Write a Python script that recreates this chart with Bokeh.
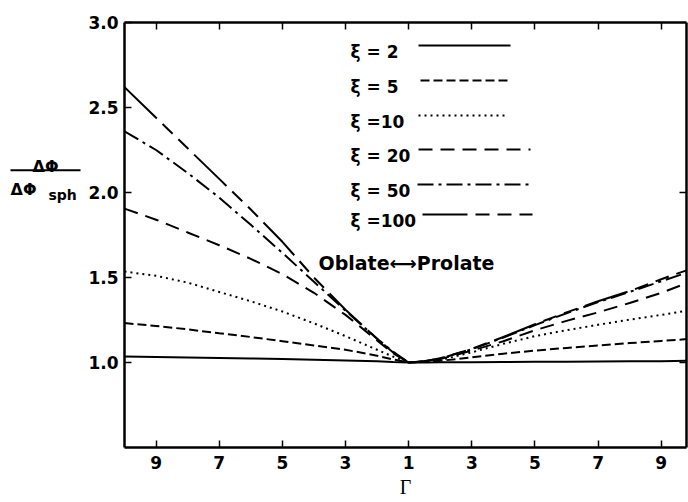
from bokeh.plotting import figure
from bokeh.layouts import row
from bokeh.models import Range1d, LinearAxis, FixedTicker, Label
from bokeh.core.properties import value
from bokeh.embed import file_html
from bokeh.resources import INLINE

# ---------------- data ----------------
xi_labels = ["ξ = 2", "ξ = 5", "ξ =10", "ξ = 20", "ξ = 50", "ξ =100"]

gamma_oblate = [10, 9, 8, 7, 6, 5, 4, 3, 2, 1.5, 1]
gamma_prolate = [1, 1.5, 2, 3, 4, 5, 6, 7, 8, 9, 10]

oblate_xi2 = [1.035, 1.033, 1.030, 1.027, 1.024, 1.020, 1.016, 1.012, 1.007, 1.003, 1.0]
oblate_xi5 = [1.232, 1.215, 1.195, 1.172, 1.150, 1.125, 1.100, 1.075, 1.040, 1.018, 1.0]
oblate_xi10 = [1.535, 1.510, 1.470, 1.415, 1.360, 1.300, 1.230, 1.155, 1.075, 1.035, 1.0]
oblate_xi20 = [1.905, 1.840, 1.765, 1.690, 1.610, 1.520, 1.410, 1.280, 1.130, 1.055, 1.0]
oblate_xi50 = [2.360, 2.250, 2.115, 1.970, 1.810, 1.645, 1.475, 1.305, 1.140, 1.065, 1.0]
oblate_xi100 = [2.620, 2.440, 2.260, 2.080, 1.900, 1.710, 1.500, 1.310, 1.140, 1.060, 1.0]

prolate_xi2 = [1.0, 1.0, 1.001, 1.002, 1.003, 1.004, 1.005, 1.006, 1.007, 1.008, 1.010]
prolate_xi5 = [1.0, 1.003, 1.010, 1.030, 1.052, 1.070, 1.086, 1.100, 1.114, 1.127, 1.140]
prolate_xi10 = [1.0, 1.005, 1.015, 1.060, 1.110, 1.155, 1.190, 1.222, 1.252, 1.280, 1.310]
prolate_xi20 = [1.0, 1.007, 1.020, 1.070, 1.125, 1.190, 1.245, 1.295, 1.350, 1.410, 1.480]
prolate_xi50 = [1.0, 1.008, 1.024, 1.078, 1.147, 1.220, 1.290, 1.355, 1.415, 1.478, 1.540]
prolate_xi100 = [1.0, 1.008, 1.025, 1.080, 1.150, 1.225, 1.295, 1.360, 1.420, 1.490, 1.555]

oblate_series = [oblate_xi2, oblate_xi5, oblate_xi10, oblate_xi20, oblate_xi50, oblate_xi100]
prolate_series = [prolate_xi2, prolate_xi5, prolate_xi10, prolate_xi20, prolate_xi50, prolate_xi100]

x_tick_pos = [-8, -6, -4, -2, 0, 2, 4, 6, 8]
x_tick_labels = ["9", "7", "5", "3", "1", "3", "5", "7", "9"]
y_ticks = [1.0, 1.5, 2.0, 2.5, 3.0]
right_ticks = [1.0, 2.0]

# ---------------- styles / layout ----------------
dashes = ["solid", "9 4", "2 4", "14 8", "16 5 3 5", "45 8 14 8 14 8"]
FONT = "DejaVu Sans"

H = 502
LEFT_W = 85          # strip holding the y-axis title
MAIN_W = 688 - LEFT_W
FRAME_L, FRAME_R, FRAME_T, FRAME_B = 124, 686, 22, 447
X0, X1 = -9.0, 8.8
Y0, Y1 = 0.5, 3.0


def X(px):
    return X0 + (px - FRAME_L) * (X1 - X0) / (FRAME_R - FRAME_L)


def Y(py):
    return Y1 - (py - FRAME_T) * (Y1 - Y0) / (FRAME_B - FRAME_T)


# ---------- y-axis title strip ----------
t = figure(width=LEFT_W, height=H, output_backend="svg", toolbar_location=None,
           x_range=Range1d(0, LEFT_W), y_range=Range1d(H, 0),
           x_axis_type=None, y_axis_type=None,
           min_border_left=0, min_border_right=0, min_border_top=0, min_border_bottom=0)
t.outline_line_color = None
t.grid.visible = False
t.text(x=[45], y=[170], text=["ΔΦ"], text_font=value(FONT), text_font_style="bold",
       text_font_size="16px", text_align="center", text_baseline="alphabetic",
       text_color="black")
t.segment(x0=[10], y0=[174.5], x1=[80], y1=[174.5], line_width=2, line_color="black")
t.text(x=[10], y=[197], text=["ΔΦ"], text_font=value(FONT), text_font_style="bold",
       text_font_size="16px", text_align="left", text_baseline="alphabetic",
       text_color="black")
t.text(x=[48], y=[204], text=["sph"], text_font=value(FONT), text_font_style="bold",
       text_font_size="14px", text_align="left", text_baseline="alphabetic",
       text_color="black")

# ---------- main plot ----------
p = figure(width=MAIN_W, height=H, output_backend="svg", toolbar_location=None,
           x_range=Range1d(X0, X1), y_range=Range1d(Y0, Y1),
           min_border_left=FRAME_L - LEFT_W, min_border_right=688 - FRAME_R,
           min_border_top=FRAME_T, min_border_bottom=H - FRAME_B)
p.outline_line_color = None
p.grid.visible = False
p.background_fill_color = "white"
p.border_fill_color = "white"

xa = p.below[0]
xa.ticker = FixedTicker(ticks=x_tick_pos)
xa.major_label_overrides = {tk: lb for tk, lb in zip(x_tick_pos, x_tick_labels)}
ya = p.left[0]
ya.ticker = FixedTicker(ticks=y_ticks)
ya.major_label_overrides = {tk: f"{tk:.1f}" for tk in y_ticks}
for ax in (xa, ya):
    ax.axis_line_width = 2.5
    ax.major_tick_in = 7
    ax.major_tick_out = 0
    ax.major_tick_line_width = 1.5
    ax.minor_tick_in = 0
    ax.minor_tick_out = 0
    ax.major_label_text_font = FONT
    ax.major_label_text_font_style = "bold"
    ax.major_label_text_font_size = "17px"
    ax.major_label_text_color = "black"
xa.major_label_standoff = 8
ya.major_label_standoff = 6
xa.axis_label = "Γ"
xa.axis_label_text_font = "Liberation Serif"
xa.axis_label_text_font_style = "normal"
xa.axis_label_text_font_size = "20px"
xa.axis_label_text_color = "black"
xa.axis_label_standoff = 4

# frame sides with inward ticks only (no labels)
top = LinearAxis(ticker=FixedTicker(ticks=x_tick_pos), axis_line_width=2.5,
                 major_tick_in=7, major_tick_out=0, major_tick_line_width=1.5,
                 minor_tick_in=0, minor_tick_out=0,
                 major_label_overrides={tk: "" for tk in x_tick_pos},
                 major_label_text_font_size="1px", major_label_standoff=0)
p.add_layout(top, "above")
right = LinearAxis(ticker=FixedTicker(ticks=right_ticks), axis_line_width=2.5,
                   major_tick_in=7, major_tick_out=0, major_tick_line_width=1.5,
                   minor_tick_in=0, minor_tick_out=0,
                   major_label_overrides={tk: "" for tk in right_ticks},
                   major_label_text_font_size="1px", major_label_standoff=0)
p.add_layout(right, "right")

# curves: oblate side plotted to the left of Γ = 1, prolate side to the right
for obl, pro, dash in zip(oblate_series, prolate_series, dashes):
    xs = [-(g - 1) for g in gamma_oblate] + [g - 1 for g in gamma_prolate[1:]]
    ys = list(obl) + list(pro[1:])
    p.line(xs, ys, line_color="black", line_width=2, line_dash=dash)

# legend drawn like the original: label, then a line sample
leg_text_x = 350
leg_rows = [45, 80, 115, 149, 184, 214]
leg_line_x = [(418, 510), (420, 510), (418, 508), (418, 530), (417, 530), (422, 532)]
for lab, rw, (lx0, lx1), dash in zip(xi_labels, leg_rows, leg_line_x, dashes):
    p.add_layout(Label(x=X(leg_text_x), y=Y(rw + 6.5), text=lab, text_font=FONT,
                       text_font_style="bold", text_font_size="17px",
                       text_color="black", text_align="left",
                       text_baseline="alphabetic"))
    p.line([X(lx0), X(lx1)], [Y(rw), Y(rw)], line_color="black",
           line_width=2, line_dash=dash)

p.add_layout(Label(x=X(318), y=Y(262), text="Oblate⟷Prolate", text_font=FONT,
                   text_font_style="bold", text_font_size="19px",
                   text_color="black", text_align="left",
                   text_baseline="alphabetic"))

layout = row(t, p)
open("out.html", "w").write(file_html(layout, INLINE))
